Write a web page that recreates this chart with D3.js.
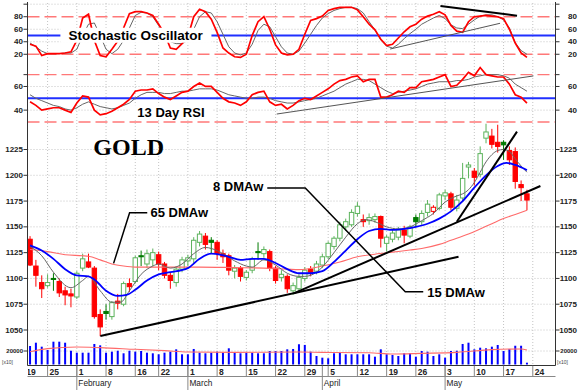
<!DOCTYPE html>
<html>
<head>
<meta charset="utf-8">
<script src="https://cdn.jsdelivr.net/npm/d3@7"></script>
<style>
  body { margin: 0; background: #fff; }
  svg { display: block; }
</style>
</head>
<body>
<div id="container"></div>
<script>
// ---- trading days: index 0 = Jan 20 ... index 85 = May 21 ----
const dayTickIdx    = [-1, 3, 8, 13, 18, 22, 27, 32, 37, 42, 47, 51, 56, 61, 66, 71, 76, 81, 86];
const dayTickLabels = ["19","25","1","8","16","22","1","8","15","22","29","5","12","19","26","3","10","17","24"];
const monthTickIdx  = [8, 27, 50, 71];
const monthNames    = ["February", "March", "April", "May"];

// daily candles
const opens  = [1138,1112,1096,1093,1100,1097,1088,1085,1082,1110, 1116,1110,1065,1068,1063,1078,1075,1095,1097,1122,
                1114,1118,1123,1114,1103,1096,1109,1117,1119,1135, 1141,1137,1135,1124,1122,1107,1110,1101,1108,1126,
                1124,1126,1110,1101,1102,1088,1090,1100,1109,1107, 1113,1121,1131,1139,1150,1152,1163,1157,1156,1157,
                1160,1134,1138,1140,1147,1141,1159,1155,1164,1165, 1168,1180,1182,1168,1178,1208,1204,1201,1236,1238,
                1232,1232,1224,1223,1191,1182];
const highs  = [1141,1118,1103,1104,1105,1100,1092,1090,1107,1124, 1124,1112,1070,1075,1078,1085,1097,1100,1122,1127,
                1128,1129,1126,1116,1106,1112,1121,1123,1140,1146, 1144,1140,1137,1128,1124,1113,1112,1108,1121,1135,
                1131,1128,1112,1108,1104,1096,1104,1111,1112,1117, 1124,1136,1141,1155,1158,1167,1174,1162,1163,1163,
                1161,1142,1147,1150,1151,1152,1162,1166,1176,1171, 1183,1186,1184,1181,1212,1213,1207,1228,1250,1245,
                1249,1234,1228,1227,1195,1186];
const lows   = [1112,1092,1081,1091,1088,1082,1074,1072,1080,1107, 1110,1061,1044,1060,1060,1070,1073,1087,1095,1112,
                1110,1112,1108,1100,1090,1092,1106,1112,1115,1131, 1128,1124,1118,1115,1103,1100,1097,1098,1105,1118,
                1120,1107,1095,1097,1086,1084,1087,1097,1102,1104, 1110,1119,1128,1136,1146,1150,1160,1150,1152,1154,
                1130,1126,1135,1137,1134,1139,1150,1152,1160,1162, 1166,1176,1166,1165,1174,1197,1190,1198,1231,1226,
                1222,1215,1210,1187,1175,1166];
const closes = [1113,1103,1090,1096,1099,1086,1084,1083,1105,1119, 1111,1063,1053,1066,1076.5,1076,1095,1092,1120,1121,
                1124,1125,1114,1103,1098,1109,1118,1120,1137,1143, 1133,1135,1124,1121,1108,1110,1102,1106,1119,1125,
                1128,1110,1098,1104,1090,1093,1101,1108,1106,1114, 1121,1134,1139,1152,1155,1164,1170,1155,1159,1160,
                1139,1140,1144,1147,1142,1150,1155,1163,1172,1169, 1181,1183,1169,1176,1197,1210,1198,1221,1242,1230,
                1228,1229.5,1215,1194,1188,1176];
const volumes = [27400,32300,26400,21500,33800,33800,32300,20400,17500,17500, 17500,30400,28400,17500,19000,20400,16600,20400,19000,20000,
                 17500,16600,15100,17500,19000,22500,15100,15100,23000,17500, 16600,17500,19000,17500,24000,17500,16600,17500,17500,16600,
                 16600,20000,20000,20000,22500,23000,30000,29000,19000,12600, 10100,9200,16600,18000,15100,15100,15100,15100,15100,11600,
                 22500,15100,14100,12600,16600,16600,11600,20000,19000,12600, 15100,10100,20000,20400,30400,32300,22500,24900,24000,26400,
                 28900,20000,23000,27800,27800,2700];

// moving averages: [day index, value]
const ma8  = [[0,1131],[2,1122],[4,1106],[7,1091],[9,1098],[10,1102],[12,1088],[14,1077],[15.5,1077],[17,1088],[19,1104],
              [21,1112],[22,1114],[24,1110],[26,1114],[28,1124],[30,1130],[32,1127],[35,1117],[37,1112],[38,1111],[40,1118],
              [42,1113],[44,1105],[46,1102],[47,1102],[49,1106],[50,1111],[52,1125],[54,1140],[56,1153],[57.5,1157],[59,1155],
              [61,1150],[63,1148],[65,1150],[67,1156],[69,1163],[71,1174],[73,1180],[74,1182],[75,1186],[76,1193],[77,1203],
              [78,1213],[79,1220],[80,1224],[81,1225],[82,1223],[83,1216],[84,1209],[85,1203]];
const ma15 = [[0,1132],[2,1127],[4,1119],[6,1109],[8,1103],[10,1102],[11,1099],[13,1088],[15,1083],[16.5,1084],[18,1089],
              [20,1098],[22,1104],[24,1106],[27,1110],[29,1119],[31,1124],[34,1121],[36,1118],[38,1119],[40,1119],[42,1115],
              [44,1109],[46,1105],[48,1105],[50,1107],[52,1116],[54,1127],[56,1138],[58,1146],[60,1148],[62,1147],[64,1148],
              [66,1150],[68,1153],[70,1158],[72,1165],[74,1175],[76,1188],[78,1200],[80,1209],[81.5,1212],[83,1210],[85,1205]];
const ma65 = [[0,1128],[3,1126],[6,1123],[9,1122],[10,1121.5],[12,1118],[14,1114],[16,1112],[18,1111],[23,1111],[29,1111],
              [35,1110.5],[40,1110],[44,1109],[46,1108.5],[50,1112],[53,1116],[56,1121],[59,1123.5],[62,1125.5],[65,1127.5],
              [67,1129],[70,1133],[72,1137],[75,1143],[77,1148],[79,1153],[81,1158],[83,1162],[85,1166]];
const volAvg = [[0,19000],[3,23500],[8,26000],[12,25000],[18,22500],[23,20500],[27,18500],[35,18000],[46,18500],
                [50,18000],[58,17500],[62,15500],[67,16500],[73,18000],[79,22000],[84,23000],[85,21500]];

// stochastic %K (red) and %D (grey)
const stochK = [36,33,18,21,21,21,22,24,42,78, 84,42,18,16,28,41,62,85,88,88, 86,82,68,53,30,28,37,48,80,92,
                88,76,55,30,22,16,15,20,50,72, 80,60,35,22,19,20,28,52,74,77, 81,90,93,95,95,95,91,80,68,59,
                44,34,36,46,56,64,68,76,81,84, 88,83,66,57,55,72,80,81,82,81, 80,77,60,38,22,15];
const stochD = [38,32,25,21,21,21,22,22,28,50, 68,70,50,28,21,28,42,62,82,87, 86,80,66,50,40,37,37,42,60,80,
                88,86,72,52,32,22,19,22,36,58, 68,64,48,32,22,20,25,38,52,66, 78,85,90,93,95,95,93,86,72,59,
                43,33,30,36,45,53,60,68,73,78, 82,77,67,62,61,68,75,81,83,83, 80,75,62,38,26,20];
// 13 day RSI (red) and its average (grey)
const rsi    = [47,44,40,41,42,42,40,38,46,52, 51,40,36,37,39,42,45,49,56,57, 57,58,54,51,49,52,55,56,60,63,
                60,60,55,50,47,46,44,47,53,55, 56,47,44,45,41,44,48,50,49,52, 55,58,62,65,66,68,69,64,66,66,
                51,51,53,56,55,59,59,64,65,66, 68,70,60,61,66,72,69,76,70,69, 68,68,62,53,51,46];
const rsiAvg = [53,50,48,46,44,43,41,40,42,45, 47,45,43,42,41,42,44,46,50,53, 55,55,55,54,54,55,56,56,57,58,
                58,58,57,55,53,52,51,50,50,51, 51,50,48,47,46,46,47,48,49,50, 52,54,56,59,62,64,66,66,65,62,
                59,56,54,55,56,57,58,60,62,63, 64,64,64,65,65,66,68,69,70,70, 70,69,67,62,59,56];

// hand-drawn trend lines: [day index, value]
const priceTrends = [
  [[12.03, 1044.1], [73.3, 1121]],
  [[45.1, 1085.5], [87.3, 1189.6]],
  [[73.0, 1155], [83.3, 1242.3]]
];
const stochTrendBlack = [[70.2, 97.2], [83.3, 81.7]];
const stochTrendGrey  = [[61.6, 28.4], [80.4, 69.5]];
const rsiTrendGrey    = [[42.2, 36.7], [86.1, 68.9]];
const leader65    = [[20.05, 1163.7], [17.03, 1163.7], [14.29, 1114.6]];
const leader8and15 = [[40.58, 1187.7], [47.08, 1187.7], [64.19, 1087.1], [67.26, 1087.1]];

const priceTicks = [1050, 1075, 1100, 1125, 1150, 1175, 1200, 1225];
const stochTicks = [20, 40, 60, 80];
const rsiTicks   = [40, 60];

// ---------------------------------------------------------------
const W = 583, H = 391;
const L = 27.5, R = 555.5, BOTTOM = 365.5;
const font = "'Liberation Sans', Arial, sans-serif";

const x      = d3.scaleLinear().domain([-0.35, 89.8]).range([28, 555]);
const yStoch = d3.scaleLinear().domain([0, 100]).range([66.8, 4.2]);
const yRsi   = d3.scaleLinear().domain([30, 70]).range([121.96, 74.64]);
const yPrice = d3.scaleLinear().domain([1050, 1225]).range([330, 149.5]);
const yVol   = d3.scaleLinear().domain([0, 20000]).range([364.5, 351]);

const svg = d3.select("#container").append("svg")
  .attr("width", W).attr("height", H)
  .style("font-family", font);

svg.append("rect").attr("width", W).attr("height", H).attr("fill", "#fff");

//////////////////// GRID ////////////////////
const grid = svg.append("g")
  .attr("stroke", "#c4c4c4")
  .attr("stroke-dasharray", "1,2")
  .attr("stroke-width", 1);

grid.selectAll("line.v")
  .data(dayTickIdx.filter(d => x(d) > L + 1 && x(d) < R - 1))
  .join("line")
  .attr("x1", d => x(d)).attr("x2", d => x(d))
  .attr("y1", 3).attr("y2", BOTTOM);

const hGrid = [
  ...priceTicks.map(v => yPrice(v)),
  ...[100, 60, 40].map(v => yStoch(v)),
  ...rsiTicks.map(v => yRsi(v)),
  yVol(20000)
];
grid.selectAll("line.h")
  .data(hGrid)
  .join("line")
  .attr("x1", L).attr("x2", R)
  .attr("y1", d => d).attr("y2", d => d);

//////////////////// REFERENCE LEVELS ////////////////////
const dashed = [yStoch(80), yStoch(20), yRsi(70), yRsi(30)];
svg.append("g")
  .attr("stroke", "#ff7878").attr("stroke-width", 1.4).attr("stroke-dasharray", "12,5")
  .selectAll("line").data(dashed).join("line")
  .attr("x1", L).attr("x2", R).attr("y1", d => d).attr("y2", d => d);

svg.append("g")
  .attr("stroke", "#2030ff").attr("stroke-width", 2)
  .selectAll("line").data([yStoch(50), yRsi(50)]).join("line")
  .attr("x1", L).attr("x2", R).attr("y1", d => d).attr("y2", d => d);

//////////////////// OSCILLATORS ////////////////////
const lineStoch = d3.line().x((d, i) => x(i)).y(d => yStoch(d));
const lineRsi   = d3.line().x((d, i) => x(i)).y(d => yRsi(d));

svg.append("path").attr("d", lineStoch(stochD))
  .attr("fill", "none").attr("stroke", "#666").attr("stroke-width", 1);
svg.append("path").attr("d", lineStoch(stochK))
  .attr("fill", "none").attr("stroke", "#ff0000").attr("stroke-width", 1.7);

svg.append("path").attr("d", lineRsi(rsiAvg))
  .attr("fill", "none").attr("stroke", "#666").attr("stroke-width", 1);
svg.append("path").attr("d", lineRsi(rsi))
  .attr("fill", "none").attr("stroke", "#ff0000").attr("stroke-width", 1.7);

const pair = (ys) => d3.line().x(d => x(d[0])).y(d => ys(d[1]));
svg.append("path").attr("d", pair(yStoch)(stochTrendBlack))
  .attr("stroke", "#000").attr("stroke-width", 2).attr("fill", "none");
svg.append("path").attr("d", pair(yStoch)(stochTrendGrey))
  .attr("stroke", "#555").attr("stroke-width", 1).attr("fill", "none");
svg.append("path").attr("d", pair(yRsi)(rsiTrendGrey))
  .attr("stroke", "#555").attr("stroke-width", 1).attr("fill", "none");

//////////////////// CANDLES ////////////////////
const idx = d3.range(closes.length);
const up = i => i === 0 ? closes[i] >= opens[i] : closes[i] >= closes[i - 1];
const candleColor = i => up(i) ? (closes[i] >= opens[i] ? "#5cb35c" : "#007a00") : "#ff0000";
const bw = 4.4;

const candle = svg.append("g").selectAll("g").data(idx).join("g");
candle.append("line")
  .attr("x1", i => x(i)).attr("x2", i => x(i))
  .attr("y1", i => yPrice(highs[i])).attr("y2", i => yPrice(lows[i]))
  .attr("stroke", candleColor).attr("stroke-width", 1);
candle.append("rect")
  .attr("x", i => x(i) - bw / 2)
  .attr("width", bw)
  .attr("y", i => yPrice(Math.max(opens[i], closes[i])))
  .attr("height", i => Math.max(1, Math.abs(yPrice(opens[i]) - yPrice(closes[i]))))
  .attr("fill", i => closes[i] < opens[i] ? candleColor(i) : "#fff")
  .attr("stroke", candleColor).attr("stroke-width", 1);

//////////////////// MOVING AVERAGES ////////////////////
const maLine = d3.line().x(d => x(d[0])).y(d => yPrice(d[1])).curve(d3.curveMonotoneX);
svg.append("path").attr("d", maLine(ma65))
  .attr("fill", "none").attr("stroke", "#ff6a6a").attr("stroke-width", 1.1);
svg.append("path").attr("d", maLine(ma8))
  .attr("fill", "none").attr("stroke", "#666").attr("stroke-width", 1);
svg.append("path").attr("d", maLine(ma15))
  .attr("fill", "none").attr("stroke", "#0000ff").attr("stroke-width", 1.8);

//////////////////// TREND LINES + LEADERS ////////////////////
svg.append("g").selectAll("path").data(priceTrends).join("path")
  .attr("d", pair(yPrice))
  .attr("fill", "none").attr("stroke", "#000").attr("stroke-width", 2);

svg.append("g").selectAll("path").data([leader65, leader8and15]).join("path")
  .attr("d", pair(yPrice))
  .attr("fill", "none").attr("stroke", "#000").attr("stroke-width", 1.5);

//////////////////// VOLUME ////////////////////
svg.append("g").selectAll("rect").data(idx).join("rect")
  .attr("x", i => x(i) - 1)
  .attr("width", 2)
  .attr("y", i => yVol(volumes[i]))
  .attr("height", i => yVol(0) - yVol(volumes[i]))
  .attr("fill", "#0000ff");

svg.append("path")
  .attr("d", d3.line().x(d => x(d[0])).y(d => yVol(d[1])).curve(d3.curveMonotoneX)(volAvg))
  .attr("fill", "none").attr("stroke", "#ff6a6a").attr("stroke-width", 1.1);

//////////////////// AXES ////////////////////
const axes = svg.append("g").attr("stroke", "#333").attr("stroke-width", 1);
axes.append("line").attr("x1", L).attr("x2", L).attr("y1", 2).attr("y2", BOTTOM);
axes.append("line").attr("x1", R).attr("x2", R).attr("y1", 2).attr("y2", BOTTOM);

const tickYs = [
  ...priceTicks.map(v => yPrice(v)),
  ...[100, ...stochTicks].map(v => yStoch(v)),
  ...[70, ...rsiTicks].map(v => yRsi(v)),
  yVol(20000)
];
axes.selectAll("line.tl").data(tickYs).join("line")
  .attr("x1", L - 4).attr("x2", L).attr("y1", d => d).attr("y2", d => d);
axes.selectAll("line.tr").data(tickYs).join("line")
  .attr("x1", R).attr("x2", R + 4).attr("y1", d => d).attr("y2", d => d);

const labelSets = [
  ...priceTicks.map(v => ({y: yPrice(v), t: v, s: 8})),
  ...stochTicks.map(v => ({y: yStoch(v), t: v, s: 8})),
  ...rsiTicks.map(v => ({y: yRsi(v), t: v, s: 8})),
  {y: yVol(20000), t: "20000", s: 6}
];
const yLabels = svg.append("g")
  .attr("font-weight", "bold").attr("fill", "#222")
  .attr("dominant-baseline", "central").attr("text-anchor", "end");
yLabels.selectAll("text.l").data(labelSets).join("text")
  .attr("x", 23).attr("y", d => d.y).attr("font-size", d => d.s).text(d => d.t);
yLabels.selectAll("text.r").data(labelSets).join("text")
  .attr("x", 577).attr("y", d => d.y).attr("font-size", d => d.s).text(d => d.t);

svg.append("g").attr("font-size", 5).attr("fill", "#444")
  .selectAll("text").data([2, 557]).join("text")
  .attr("x", d => d).attr("y", 364).text("[x10]");

// bottom date axis
axes.append("line").attr("x1", L).attr("x2", R).attr("y1", BOTTOM).attr("y2", BOTTOM);
svg.append("line").attr("x1", L).attr("x2", R).attr("y1", 376.5).attr("y2", 376.5)
  .attr("stroke", "#888");

svg.append("defs").append("clipPath").attr("id", "xclip")
  .append("rect").attr("x", L + 0.5).attr("y", BOTTOM).attr("width", W - L).attr("height", H - BOTTOM);

const xAxis = svg.append("g").attr("clip-path", "url(#xclip)");
xAxis.selectAll("line.d").data(dayTickIdx).join("line")
  .attr("x1", d => x(d)).attr("x2", d => x(d))
  .attr("y1", BOTTOM).attr("y2", 376.5)
  .attr("stroke", "#888");
xAxis.selectAll("line.m").data(monthTickIdx).join("line")
  .attr("x1", d => x(d)).attr("x2", d => x(d))
  .attr("y1", BOTTOM).attr("y2", 390)
  .attr("stroke", "#888");
xAxis.selectAll("text.d").data(dayTickIdx).join("text")
  .attr("x", d => x(d) + 2).attr("y", 374.5)
  .attr("font-size", 8.5).attr("font-weight", "bold").attr("fill", "#222")
  .text((d, i) => dayTickLabels[i]);
xAxis.selectAll("text.m").data(monthTickIdx).join("text")
  .attr("x", d => x(d) + 1.5).attr("y", 385.5)
  .attr("font-size", 8.3).attr("fill", "#222")
  .text((d, i) => monthNames[i]);

//////////////////// TEXT ////////////////////
const boxed = (tx, ty, txt, size) => {
  const g = svg.append("g");
  const t = g.append("text")
    .attr("x", tx).attr("y", ty)
    .attr("font-size", size).attr("font-weight", "bold").attr("fill", "#000")
    .text(txt);
  const b = t.node().getBBox();
  g.insert("rect", "text")
    .attr("x", b.x - 8).attr("y", b.y)
    .attr("width", b.width + 16).attr("height", b.height)
    .attr("fill", "#fff");
};
boxed(x(6.56), yStoch(43.2), "Stochastic Oscillator", 13.5);
boxed(x(18.35), yRsi(34.0), "13 Day RSI", 13);

const notes = svg.append("g").attr("font-weight", "bold").attr("fill", "#000");
notes.append("text")
  .attr("x", x(10.83)).attr("y", yPrice(1219.7))
  .attr("font-family", "'Liberation Serif', 'Times New Roman', serif")
  .attr("font-size", 24).text("GOLD");
notes.append("text").attr("x", x(20.6)).attr("y", yPrice(1160))
  .attr("font-size", 13).text("65 DMAw");
notes.append("text").attr("x", x(39.9)).attr("y", yPrice(1184.3))
  .attr("text-anchor", "end").attr("font-size", 13).text("8 DMAw");
notes.append("text").attr("x", x(67.95)).attr("y", yPrice(1082.4))
  .attr("font-size", 13).text("15 DMAw");
</script>
</body>
</html>
